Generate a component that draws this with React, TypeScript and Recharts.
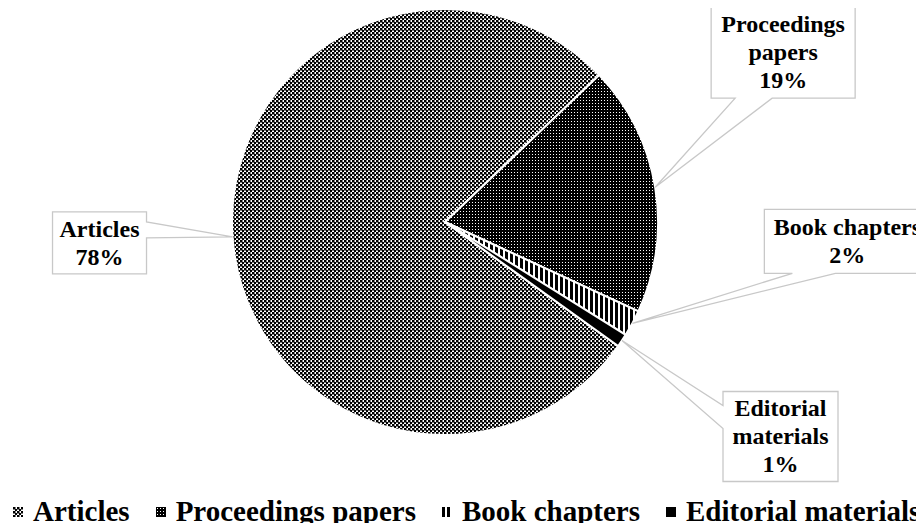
import React from "react"
import { PieChart, Pie, Cell, Legend } from "recharts"

const categories = ["Articles", "Proceedings papers", "Book chapters", "Editorial materials"]
const shares = [78, 19, 2, 1]
const calloutLines = [["Articles"], ["Proceedings", "papers"], ["Book chapters"], ["Editorial", "materials"]]

const data = categories.map((name, i) => ({ name, value: shares[i] }))

const fills = ["url(#patArticles)", "url(#patProceedings)", "url(#patBook)", "#000"]

const RAD = Math.PI / 180
const FONT = "'Liberation Serif', 'Times New Roman', serif"

// where each callout box sits relative to the tip on the pie edge,
// which side the wedge leaves from and where it meets that side
const callouts = [
  { dx: -180, dy: -25, w: 94, h: 62, side: "right", a: 10, b: 26 },
  { dx: 56, dy: -181, w: 144, h: 92, side: "bottom", a: 24, b: 61 },
  { dx: 132, dy: -114, w: 166, h: 64, side: "bottom", a: 28, b: 71 },
  { dx: 101, dy: 51, w: 115, h: 90, side: "left", a: 14, b: 37 },
]

function calloutPath(x: number, y: number, w: number, h: number, side: string, a: number, b: number, tx: number, ty: number) {
  if (side === "right")
    return `M${x},${y} H${x + w} V${y + a} L${tx},${ty} L${x + w},${y + b} V${y + h} H${x} Z`
  if (side === "bottom")
    return `M${x},${y} H${x + w} V${y + h} H${x + b} L${tx},${ty} L${x + a},${y + h} H${x} Z`
  return `M${x},${y} H${x + w} V${y + h} H${x} V${y + b} L${tx},${ty} L${x},${y + a} Z`
}

const renderCallout = (props: any) => {
  const { cx, cy, midAngle, outerRadius, index, percent } = props
  const tx = cx + outerRadius * Math.cos(-midAngle * RAD)
  const ty = cy + outerRadius * Math.sin(-midAngle * RAD)
  const c = callouts[index]
  const x = tx + c.dx
  const y = ty + c.dy
  const lines = [...calloutLines[index], `${Math.round(percent * 100)}%`]
  const midY = y + c.h / 2
  return (
    <g key={`callout-${index}`}>
      <path d={calloutPath(x, y, c.w, c.h, c.side, c.a, c.b, tx, ty)} fill="#fff" stroke="#c8c8c8" strokeWidth={1.3} />
      {lines.map((l, k) => (
        <text
          key={k}
          x={x + c.w / 2}
          y={midY + (k - (lines.length - 1) / 2) * 28}
          textAnchor="middle"
          dominantBaseline="central"
          fontFamily={FONT}
          fontWeight="bold"
          fontSize={24}
          fill="#000"
        >
          {l}
        </text>
      ))}
    </g>
  )
}

const renderLegend = () => (
  <div
    style={{
      display: "flex",
      fontFamily: FONT,
      fontWeight: "bold",
      fontSize: 29,
      color: "#000",
      whiteSpace: "nowrap",
      paddingLeft: 13,
    }}
  >
    {categories.map((name, i) => (
      <div key={name} style={{ display: "flex", alignItems: "center", marginRight: 26 }}>
        <svg width={10} height={10} style={{ marginRight: 10 }}>
          <rect width={10} height={10} fill={fills[i]} />
        </svg>
        <span>{name}</span>
      </div>
    ))}
  </div>
)

const Patterns = () => (
  <svg width={0} height={0} style={{ position: "absolute" }}>
    <defs>
      <pattern id="patArticles" width={4} height={4} patternUnits="userSpaceOnUse">
        <rect width={4} height={4} fill="#fff" />
        <rect x={0} y={0} width={2.5} height={2.5} fill="#000" />
        <rect x={2} y={2} width={2.5} height={2.5} fill="#000" />
      </pattern>
      <pattern id="patProceedings" width={3} height={3} patternUnits="userSpaceOnUse">
        <rect width={3} height={3} fill="#000" />
        <rect x={1} y={1} width={1} height={1} fill="#fff" />
      </pattern>
      <pattern id="patBook" width={5} height={5} patternUnits="userSpaceOnUse">
        <rect width={5} height={5} fill="#fff" />
        <rect x={0} y={0} width={3} height={5} fill="#000" />
      </pattern>
    </defs>
  </svg>
)

export default function App() {
  return (
    <div style={{ margin: -8, width: 924, height: 531, position: "relative", background: "#fff" }}>
      <Patterns />
      <PieChart width={924} height={531} margin={{ top: 0, right: 0, bottom: 0, left: 0 }}>
        <Pie
          data={data}
          dataKey="value"
          nameKey="name"
          cx={445}
          cy={222}
          outerRadius={213}
          startAngle={-35.6}
          endAngle={-395.6}
          stroke="#fff"
          strokeWidth={2}
          label={renderCallout}
          labelLine={false}
          isAnimationActive={false}
        >
          {data.map((d, i) => (
            <Cell key={d.name} fill={fills[i]} />
          ))}
        </Pie>
        <Legend
          content={renderLegend}
          wrapperStyle={{ top: 495, bottom: "auto", left: 0, width: 924, height: 33 }}
        />
      </PieChart>
    </div>
  )
}
